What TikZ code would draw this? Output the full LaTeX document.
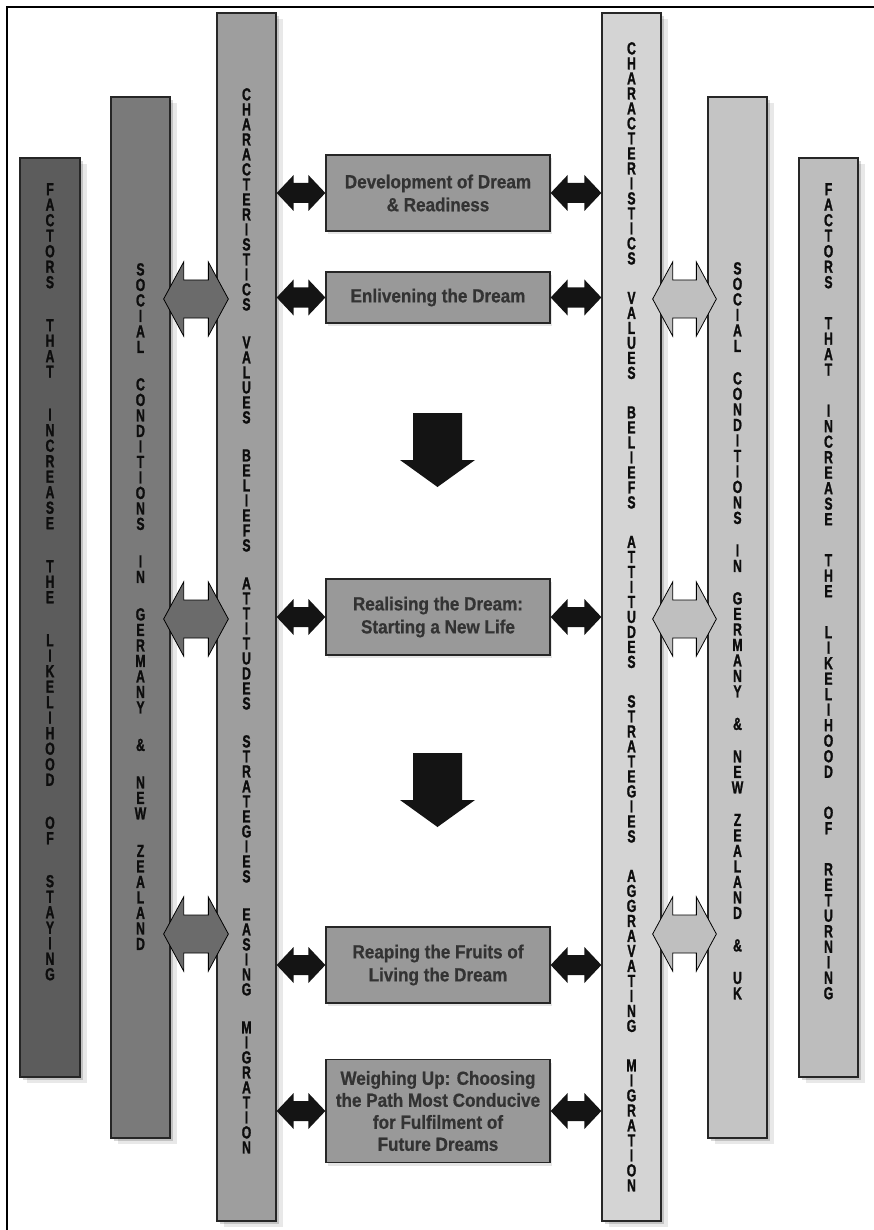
\documentclass[tikz,border=0pt]{standalone}
\usepackage{fontspec}
\usetikzlibrary{calc,shadows}
\newfontfamily\colfont{Liberation Sans}[FakeStretch=0.7,FakeBold=1.2]
\newfontfamily\boxfont{Liberation Sans}[FakeStretch=0.9,FakeBold=0.6]
\makeatletter
\newcommand\vword[1]{\@tfor\vw@c:=#1\do{\hbox to 0pt{\hss\vw@c\hss}}}
\newcommand\vcolumn[3]{%
  \vbox{\baselineskip=#1\lineskiplimit=-\maxdimen\lineskip=0pt
    \foreach \vw@w [count=\vw@i] in {#3}{%
      \ifnum\vw@i>1 \vskip\dimexpr#2-#1\relax\fi
      \expandafter\vword\expandafter{\vw@w}}}}
\makeatother
\newcommand\fatarrow[6]{%
  \path[#1] let \p1=#2, \p2=#3 in
   (\x1,\y1) -- (\x1+#4,\y1+#5) -- (\x1+#4,\y1+#6) -- (\x2-#4,\y1+#6)
   -- (\x2-#4,\y1+#5) -- (\x2,\y1) -- (\x2-#4,\y1-#5) -- (\x2-#4,\y1-#6)
   -- (\x1+#4,\y1-#6) -- (\x1+#4,\y1-#5) -- cycle;}
\begin{document}
\begin{tikzpicture}[x=1pt,y=-1pt,
  colshadow/.style={drop shadow={opacity=0.16,shadow xshift=3pt,shadow yshift=-3pt,fill=black},
                    drop shadow={opacity=0.09,shadow xshift=7pt,shadow yshift=-6pt,fill=black}},
  col/.style={draw=black!85, line width=1.3pt, rectangle, inner sep=0pt,
              minimum width=59pt, colshadow},
  coltext/.style={anchor=north, inner sep=0pt, text=black!95,
              font=\colfont\bfseries\fontsize{17.5}{15}\selectfont},
  stage/.style={draw=black!85, line width=1.3pt, fill=black!40, minimum width=224pt,
                align=center, inner sep=0pt, text=black!80,
                drop shadow={opacity=0.1,shadow xshift=2pt,shadow yshift=-3pt,fill=black},
                font=\boxfont\bfseries\fontsize{19}{23}\selectfont},
  blk/.style={fill=black!92},
  gryL/.style={fill=black!58, draw=black, line width=0.8pt},
  gryR/.style={fill=black!25, draw=black, line width=0.8pt},
  down/.style={fill=black!92}]
\useasboundingbox (0,0) rectangle (874,1230);
\fill[white] (0,0) rectangle (874,1230);

% columns
\node[col, fill=black!64, minimum width=60pt, minimum height=919pt] (c1) at (50,617.5) {};
\node[col, fill=black!52, minimum height=1041pt] (c2) at (140.5,617.5) {};
\node[col, fill=black!38, minimum height=1208pt] (c3) at (246.5,617) {};
\node[col, fill=black!17, minimum height=1208pt] (c4) at (631.5,617) {};
\node[col, fill=black!23, minimum height=1041pt] (c5) at (737.5,617.5) {};
\node[col, fill=black!26, minimum height=919pt] (c6) at (828.5,617.5) {};

% column texts
\node[coltext] (t1) at (c1.center |- 0,183)
  {\vcolumn{15.5pt}{43pt}{FACTORS,THAT,INCREASE,THE,LIKELIHOOD,OF,STAYING}};
\node[coltext] (t2) at (c2.center |- 0,263)
  {\vcolumn{15.5pt}{37.5pt}{SOCIAL,CONDITIONS,IN,GERMANY,\&,NEW,ZEALAND}};
\node[coltext] (t3) at (c3.center |- 0,88)
  {\vcolumn{15pt}{38pt}{CHARACTERISTICS,VALUES,BELIEFS,ATTITUDES,STRATEGIES,EASING,MIGRATION}};
\node[coltext] (t4) at (c4.center |- 0,42)
  {\vcolumn{15pt}{39.5pt}{CHARACTERISTICS,VALUES,BELIEFS,ATTITUDES,STRATEGIES,AGGRAVATING,MIGRATION}};
\node[coltext] (t5) at (c5.center |- 0,262)
  {\vcolumn{15.5pt}{32.5pt}{SOCIAL,CONDITIONS,IN,GERMANY,\&,NEW,ZEALAND,\&,UK}};
\node[coltext] (t6) at (c6.center |- 0,183)
  {\vcolumn{15.5pt}{41pt}{FACTORS,THAT,INCREASE,THE,LIKELIHOOD,OF,RETURNING}};

% stage boxes
\node[stage, minimum height=76pt] (b1) at (438,193) {Development of Dream\\\& Readiness};
\node[stage, minimum height=51pt] (b2) at (438,297.5) {Enlivening the Dream};
\node[stage, minimum height=76pt] (b3) at (438,617) {Realising the Dream:\\Starting a New Life};
\node[stage, minimum height=76pt] (b4) at (438,965) {Reaping the Fruits of\\Living the Dream};
\node[stage, minimum height=103pt, font=\boxfont\bfseries\fontsize{19}{22}\selectfont] (b5) at (438,1111)
  {Weighing Up: Choosing\\the Path Most Conducive\\for Fulfilment of\\Future Dreams};

% black double arrows between columns and boxes
\foreach \b in {b1,b2,b3,b4,b5}{
  \fatarrow{blk}{(c3.east |- \b.west)}{(\b.west)}{17pt}{18pt}{10pt}
  \fatarrow{blk}{(\b.east)}{(c4.west |- \b.east)}{17pt}{18pt}{10pt}
}

% grey double arrows between outer columns
\foreach \yy in {299,619,934}{
  \fatarrow{gryL}{($(c2.east |- 0,\yy)+(-7,0)$)}{($(c3.west |- 0,\yy)+(12,0)$)}{20pt}{37pt}{19pt}
  \fatarrow{gryR}{($(c4.east |- 0,\yy)+(-9,0)$)}{($(c5.west |- 0,\yy)+(9,0)$)}{20pt}{37pt}{19pt}
}

% downward block arrows
\foreach \dy in {0,340}{
  \fill[down] (413,413+\dy) -- (462,413+\dy) -- (462,460+\dy) -- (475,460+\dy)
    -- (437.5,487+\dy) -- (400,460+\dy) -- (413,460+\dy) -- cycle;
}

% frame
\draw[line width=2pt] (874,7) -- (7,7) -- (7,1230);
\end{tikzpicture}
\end{document}
